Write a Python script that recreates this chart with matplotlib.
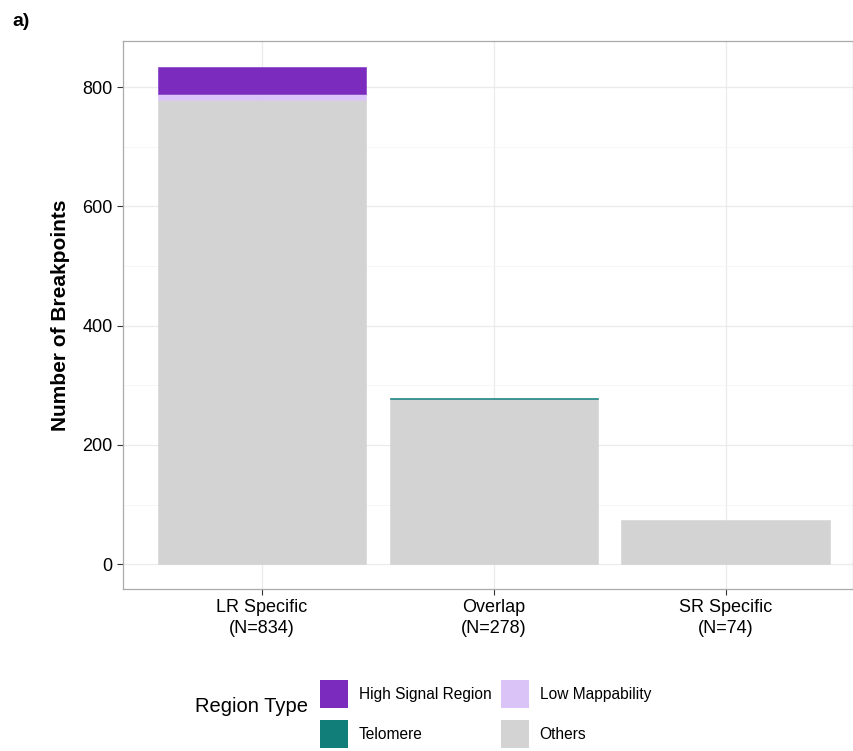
import matplotlib.pyplot as plt
import numpy as np
from matplotlib.patches import Patch

categories = ['LR Specific\n(N=834)', 'Overlap\n(N=278)', 'SR Specific\n(N=74)']
others = [779, 277, 74]
telomere = [0, 1, 0]
low_map = [9, 0, 0]
high_signal = [46, 0, 0]

col_high = '#7B2CBF'
col_low = '#D9C3F7'
col_telo = '#127E7A'
col_others = '#D3D3D3'

plt.rcParams['font.family'] = ['Liberation Sans', 'DejaVu Sans']

fig = plt.figure(figsize=(8.54, 7.51), dpi=100)
ax = fig.add_axes([123 / 854, 1 - 589 / 751, 730 / 854, 548 / 751])

x = np.arange(len(categories)) + 1
w = 0.9
bottom = np.zeros(len(categories))
for vals, col in [(others, col_others), (telomere, col_telo),
                  (low_map, col_low), (high_signal, col_high)]:
    vals = np.array(vals, dtype=float)
    keep = vals > 0
    # thin edge so that very small segments still show up
    ax.bar(x[keep], vals[keep], w, bottom=bottom[keep], color=col,
           edgecolor=col, linewidth=0.4, zorder=3)
    bottom += vals

total = max(bottom)
ax.set_xlim(0.4, 3.55)
ax.set_ylim(-0.05 * total, total * 1.052)
ax.set_xticks(x)
ax.set_xticklabels(categories, fontsize=13, linespacing=1.25)
ax.set_yticks([0, 200, 400, 600, 800])
ax.set_yticks([100, 300, 500, 700], minor=True)
ax.tick_params(axis='y', which='minor', length=0)
ax.tick_params(axis='both', which='major', labelsize=13, color='#333333',
               length=4, width=0.8, labelcolor='black')
ax.grid(True, which='major', color='#EBEBEB', linewidth=0.9, zorder=0)
ax.grid(True, which='minor', axis='y', color='#F3F3F3', linewidth=0.5, zorder=0)
ax.set_axisbelow(True)
for s in ax.spines.values():
    s.set_color('#AAAAAA')
    s.set_linewidth(0.9)

ax.set_ylabel('Number of Breakpoints', fontsize=15, fontweight='bold', labelpad=9)

fig.text(12 / 854, 1 - 22 / 751, 'a)', fontsize=14, fontweight='bold', va='center')

handles = [Patch(facecolor=col_high, label='High Signal Region'),
           Patch(facecolor=col_telo, label='Telomere'),
           Patch(facecolor=col_low, label='Low Mappability'),
           Patch(facecolor=col_others, label='Others')]
fig.text(195 / 854, 1 - 707 / 751, 'Region Type', fontsize=14.5, va='center')
fig.legend(handles=handles, ncol=2, loc='center left',
           bbox_to_anchor=(312 / 854, 1 - 714 / 751), frameon=False,
           fontsize=11.2, handlelength=1.8, handleheight=2.4,
           handletextpad=0.7, columnspacing=0.6, labelspacing=0.8,
           borderpad=0)

fig.savefig('out.png', dpi=100)
